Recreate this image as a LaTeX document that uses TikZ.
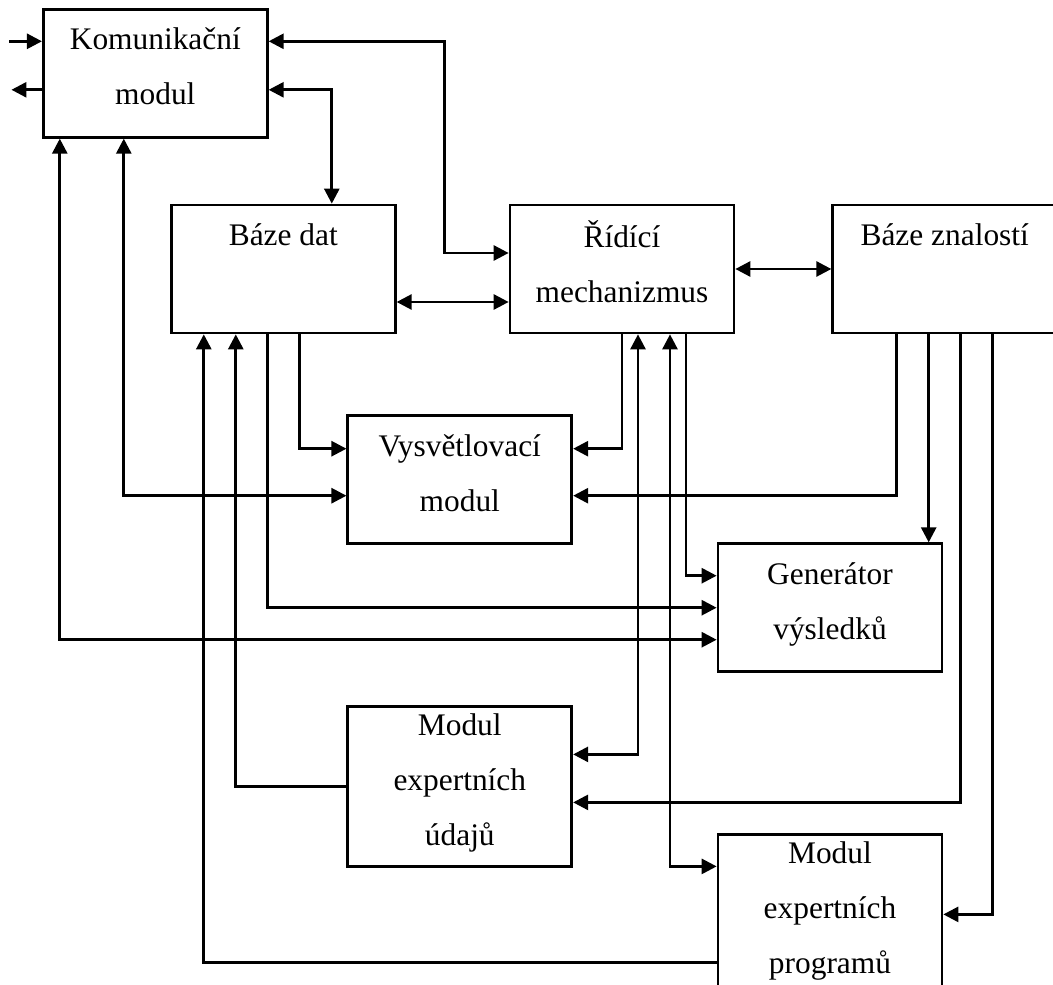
\documentclass[tikz,border=0pt]{standalone}
\usepackage{fontspec}
\setmainfont{Liberation Serif}
\usetikzlibrary{arrows.meta,positioning,calc}

\begin{document}
\begin{tikzpicture}[
    node distance=40pt and 56pt,
    box/.style={draw, line width=1.35pt, minimum width=112pt, minimum height=64pt, inner sep=0pt, align=center, font=\fontsize{15.7}{27.5}\selectfont, execute at end node={\rule[-7pt]{0pt}{7pt}}},
    tall/.style={box, minimum height=80pt},
    arrow/.style={-{Triangle[length=7.5pt, width=7.5pt]}, line width=1.35pt},
    both/.style={{Triangle[length=7.5pt, width=7.5pt]}-{Triangle[length=7.5pt, width=7.5pt]}, line width=1.35pt}
]
\clip (-311pt,-357.5pt) rectangle (215.5pt,134.5pt);
\useasboundingbox (-311pt,-357.5pt) rectangle (215.5pt,134.5pt);

\node[box] (ridici) {Řídící\\mechanizmus};
\node[box, left=56pt of ridici] (bdat) {Báze dat\\~};
\node[box, right=48pt of ridici] (bznal) {Báze znalostí\\~};
\node[box, above=32.5pt of bdat, xshift=-64pt] (kom) {Komunikační\\modul};
\node[box, below=40pt of bdat, xshift=88.25pt] (vysv) {Vysvětlovací\\modul};
\node[box, below=104pt of ridici, xshift=104pt] (gen) {Generátor\\výsledků};
\node[tall, below=80pt of vysv] (mud) {Modul\\expertních\\údajů};
\node[tall, below=80pt of gen] (mprog) {Modul\\expertních\\programů};

\coordinate (extin) at ([xshift=-16.25pt, yshift=16pt]kom.west);
\coordinate (extout) at ([xshift=-15.25pt, yshift=-8.25pt]kom.west);

\draw[arrow] (extin) -- (extin -| kom.west);
\draw[arrow] (extout -| kom.west) -- (extout);
\draw[both] ([yshift=16pt]kom.east) -| ([xshift=-32pt, yshift=8pt]ridici.west) -- ([yshift=8pt]ridici.west);
\draw[both] ([yshift=-8.25pt]kom.east) -| ([xshift=24.25pt]bdat.north);
\draw[both] ([yshift=-16.5pt]bdat.east) -- ([yshift=-16.5pt]ridici.west);
\draw[both] (ridici.east) -- (bznal.west);
\draw[both] ([xshift=-47.75pt]kom.south) |- ([yshift=-16pt]gen.west);
\draw[both] ([xshift=-15.75pt]kom.south) |- ([yshift=-8pt]vysv.west);
\draw[arrow] ([xshift=8.25pt]bdat.south) |- ([yshift=15.5pt]vysv.west);
\draw[arrow] ([xshift=-7.75pt]bdat.south) |- (gen.west);
\draw[arrow] (ridici.south) |- ([yshift=15.5pt]vysv.east);
\draw[arrow] ([xshift=-24pt]bznal.south) |- ([yshift=-8pt]vysv.east);
\draw[arrow] ([xshift=-8pt]bznal.south) -- ([xshift=-8pt]bznal.south |- gen.north);
\draw[arrow] ([xshift=32pt]ridici.south) |- ([yshift=16pt]gen.west);
\draw[both] ([xshift=8pt]ridici.south) |- ([yshift=16pt]mud.east);
\draw[both] ([xshift=24pt]ridici.south) |- ([yshift=24pt]mprog.west);
\draw[arrow] ([xshift=8pt]bznal.south) |- ([yshift=-8pt]mud.east);
\draw[arrow] ([xshift=24pt]bznal.south) |- (mprog.east);
\draw[arrow] (mud.west) -| ([xshift=-23.75pt]bdat.south);
\draw[arrow] ([yshift=-24pt]mprog.west) -| ([xshift=-39.75pt]bdat.south);
\end{tikzpicture}
\end{document}
